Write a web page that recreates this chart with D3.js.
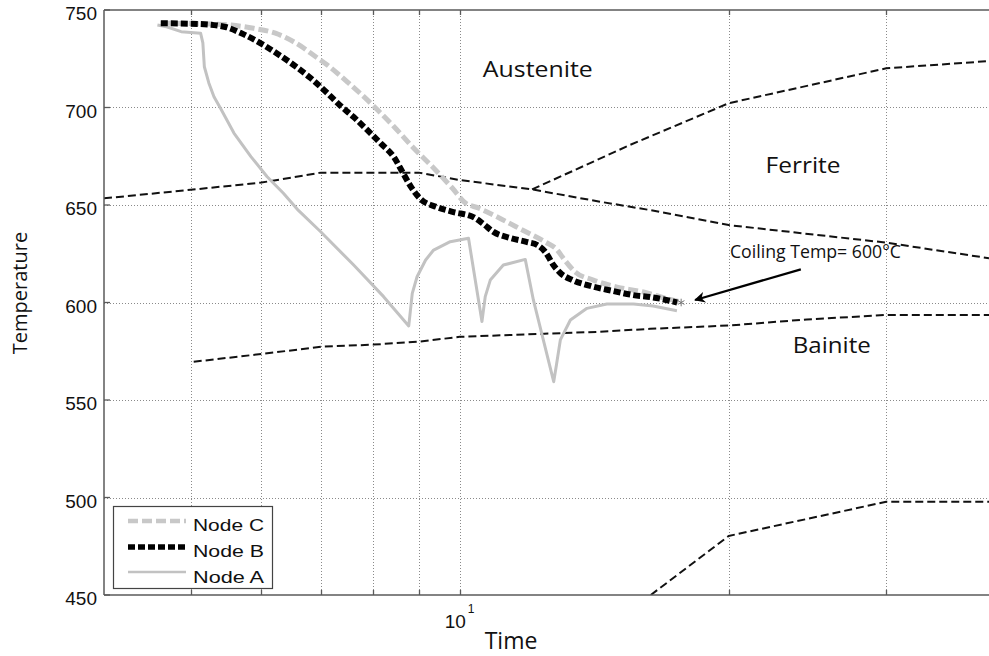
<!DOCTYPE html>
<html>
<head>
<meta charset="utf-8">
<script src="https://cdn.jsdelivr.net/npm/d3@7"></script>
<style>
  html, body { margin: 0; padding: 0; background: #fff; }
  svg { display: block; }
</style>
</head>
<body>
<svg id="chart" width="989" height="656"></svg>
<script>
// Cooling paths of three nodes (time [s], temperature [°C])
const nodeA = [
  [4.59,742.3],[4.70,741.4],[4.88,738.9],[5.13,738.1],[5.16,733.1],[5.18,720.9],
  [5.24,712.6],[5.31,705.5],[5.40,699.6],[5.59,686.9],[5.84,674.8],[6.09,664.5],
  [6.35,656.0],[6.60,647.2],[6.99,636.3],[7.61,619.2],[8.22,603.0],[8.77,588.0],
  [8.85,604.7],[8.96,613.2],[9.16,621.8],[9.35,626.9],[9.76,631.2],[10.23,632.9],
  [10.59,590.2],[10.68,603.0],[10.82,611.5],[11.19,619.2],[11.84,622.1],
  [12.09,601.3],[12.74,559.4],[12.83,567.9],[12.96,580.8],[13.30,591.0],
  [13.88,597.0],[14.61,599.2],[15.65,599.2],[16.46,598.2],[17.50,595.8]
];
const nodeB = [
  [4.63,743.2],[5.13,742.8],[5.47,741.3],[5.69,738.2],[5.99,732.9],[6.24,727.8],
  [6.52,721.8],[6.81,715.1],[7.11,707.4],[7.36,700.8],[7.61,695.1],[7.88,688.5],
  [8.16,681.6],[8.44,674.6],[8.63,666.9],[8.81,659.7],[9.04,653.1],[9.42,649.0],
  [9.84,646.4],[10.36,643.8],[10.63,640.3],[10.91,636.2],[11.39,633.1],[11.90,631.0],
  [12.21,629.5],[12.47,625.9],[12.73,619.2],[12.96,615.1],[13.37,611.5],[14.00,608.5],
  [14.85,605.9],[15.64,603.8],[16.46,602.6],[17.51,600.0]
];
const nodeC = [
  [4.63,743.2],[5.27,742.8],[5.55,742.3],[5.88,740.6],[6.22,738.1],[6.52,733.7],
  [6.69,730.5],[6.81,727.9],[7.11,721.8],[7.51,712.6],[8.01,700.8],[8.43,690.5],
  [8.88,679.2],[9.35,669.0],[9.81,658.7],[10.15,651.0],[10.49,648.5],[11.02,643.8],
  [11.75,637.2],[12.47,631.0],[12.86,626.9],[13.03,623.3],[13.47,615.6],[14.11,611.5],
  [15.00,607.9],[16.05,605.4],[17.11,601.8],[17.65,600.3]
];

// Transformation boundaries
const ferriteStart = [
  [4,653.4],[5,657.8],[6,661.5],[7,666.6],[9,666.6],[10,662.8],[12.05,658.0],
  [14.35,651.7],[16.33,647.4],[20,639.7],[30,630.7],[39.1,622.7]
];
const ferriteBranch = [[12.05,658.0],[15.51,680.8],[20,702.2],[30,720.1],[39.1,723.8]];
const bainiteStart = [
  [5.04,569.6],[6,573.6],[7,577.3],[8,578.4],[9,579.9],[10,582.4],[14.36,585.0],
  [16.33,586.5],[20,588.2],[24.45,591.3],[30,593.6],[39.1,593.6]
];
const martensiteStart = [[16.36,450],[20,480.3],[30,497.8],[39.1,497.8]];

// Axis ticks
const xGridTicks = [5, 6, 7, 8, 9, 10, 20, 30];
const yTicks = [450, 500, 550, 600, 650, 700, 750];
const yGridTicks = [500, 550, 600, 650, 700];

// Region labels: [text, time, temperature, width]
const regionLabels = [
  ["Austenite", 12.23, 715.6, 110],
  ["Ferrite", 24.22, 666.3, 75],
  ["Bainite", 26.08, 574.0, 78]
];
const coilingTemp = 600;
const coilingLabel = { text: "Coiling Temp= " + coilingTemp + "°C", t: 20.06, T: 622.7 };
const coilingArrow = { from: [24.08, 617.0], to: [18.34, 601.3] };

const legendItems = [
  { name: "Node C", key: "C" },
  { name: "Node B", key: "B" },
  { name: "Node A", key: "A" }
];

const svg = d3.select("#chart");
const plotLeft = 104, plotRight = 989, plotTop = 10, plotBottom = 595;

const x = d3.scaleLog().domain([4, 39.1]).range([plotLeft, plotRight]);
const y = d3.scaleLinear().domain([450, 750]).range([plotBottom, plotTop]);

const defs = svg.append("defs");
defs.append("clipPath").attr("id", "plotClip")
  .append("rect").attr("x", plotLeft).attr("y", plotTop)
  .attr("width", plotRight - plotLeft).attr("height", plotBottom - plotTop);

// grid
const grid = svg.append("g").attr("stroke", "#8a8a8a").attr("stroke-width", 1)
  .attr("stroke-dasharray", "1,2");
grid.selectAll("line.v").data(xGridTicks).join("line").attr("class", "v")
  .attr("x1", d => Math.round(x(d)) + 0.5).attr("x2", d => Math.round(x(d)) + 0.5)
  .attr("y1", plotTop).attr("y2", plotBottom);
grid.selectAll("line.h").data(yGridTicks).join("line").attr("class", "h")
  .attr("x1", plotLeft).attr("x2", plotRight)
  .attr("y1", d => Math.round(y(d)) + 0.5).attr("y2", d => Math.round(y(d)) + 0.5);

const plot = svg.append("g").attr("clip-path", "url(#plotClip)");
const line = d3.line().x(d => x(d[0])).y(d => y(d[1]));
const smooth = d3.line().x(d => x(d[0])).y(d => y(d[1])).curve(d3.curveMonotoneX);

// phase boundaries
[ferriteStart, ferriteBranch, bainiteStart, martensiteStart].forEach(b => {
  plot.append("path").datum(b).attr("d", line)
    .attr("fill", "none").attr("stroke", "#111").attr("stroke-width", 2)
    .attr("stroke-dasharray", "8,4");
});

// cooling paths
const styles = {
  A: { color: "#c2c2c2", width: 3, dash: null },
  C: { color: "#c8c8c8", width: 5, dash: "10,4" },
  B: { color: "#000", width: 6, dash: "7,3" }
};
plot.append("path").datum(nodeA).attr("d", line)
  .attr("fill", "none").attr("stroke", styles.A.color).attr("stroke-width", styles.A.width)
  .attr("stroke-linejoin", "round");
plot.append("path").datum(nodeC).attr("d", smooth)
  .attr("fill", "none").attr("stroke", styles.C.color).attr("stroke-width", styles.C.width)
  .attr("stroke-dasharray", styles.C.dash);
plot.append("path").datum(nodeB).attr("d", smooth)
  .attr("fill", "none").attr("stroke", styles.B.color).attr("stroke-width", styles.B.width)
  .attr("stroke-dasharray", styles.B.dash);

// end marker of node B
const endB = nodeB[nodeB.length - 1];
plot.append("path")
  .attr("d", d3.symbol().type(d3.symbolAsterisk).size(40)())
  .attr("transform", `translate(${x(endB[0]) + 4},${y(endB[1])})`)
  .attr("stroke", "#777").attr("stroke-width", 1).attr("fill", "none");

// axes frame
const axisColor = "#5a5a5a";
svg.append("line").attr("x1", plotLeft).attr("x2", plotLeft).attr("y1", plotTop).attr("y2", plotBottom)
  .attr("stroke", axisColor).attr("stroke-width", 1.5);
svg.append("line").attr("x1", plotLeft).attr("x2", plotRight).attr("y1", plotBottom).attr("y2", plotBottom)
  .attr("stroke", axisColor).attr("stroke-width", 1.5);
svg.append("line").attr("x1", plotLeft).attr("x2", plotRight).attr("y1", plotTop).attr("y2", plotTop)
  .attr("stroke", axisColor).attr("stroke-width", 1.5);

// ticks (inward)
svg.append("g").selectAll("line").data(yTicks).join("line")
  .attr("x1", plotLeft).attr("x2", plotLeft + 6)
  .attr("y1", d => y(d)).attr("y2", d => y(d))
  .attr("stroke", axisColor).attr("stroke-width", 1.3);
svg.append("g").selectAll("line").data(xGridTicks).join("line")
  .attr("x1", d => Math.round(x(d)) + 0.5).attr("x2", d => Math.round(x(d)) + 0.5)
  .attr("y1", plotBottom).attr("y2", plotBottom - 5)
  .attr("stroke", axisColor).attr("stroke-width", 1.3);
svg.append("g").selectAll("line").data(xGridTicks).join("line")
  .attr("x1", d => Math.round(x(d)) + 0.5).attr("x2", d => Math.round(x(d)) + 0.5)
  .attr("y1", plotTop).attr("y2", plotTop + 5)
  .attr("stroke", axisColor).attr("stroke-width", 1.3);

// y tick labels
svg.append("g").selectAll("text").data(yTicks).join("text")
  .attr("x", plotLeft - 7).attr("y", d => y(d) + 10)
  .attr("text-anchor", "end")
  .attr("font-family", "Liberation Sans, Arial, sans-serif")
  .attr("font-size", 19).attr("fill", "#111")
  .text(d => d);

// x decade label 10^1
const decade = svg.append("text")
  .attr("x", x(10) - 15).attr("y", 628)
  .attr("font-family", "Liberation Sans, Arial, sans-serif")
  .attr("font-size", 19).attr("fill", "#111");
decade.append("tspan").text("10");
decade.append("tspan").attr("dy", -15).attr("dx", 2).attr("font-size", 12).text("1");

// axis titles
svg.append("text").attr("x", 511).attr("y", 649)
  .attr("text-anchor", "middle")
  .attr("font-family", "Open Sans, sans-serif").attr("font-size", 23).attr("fill", "#111")
  .text("Time");
svg.append("text")
  .attr("transform", "translate(27,293) rotate(-90)")
  .attr("text-anchor", "middle")
  .attr("font-family", "Open Sans, sans-serif").attr("font-size", 20).attr("fill", "#111")
  .text("Temperature");

// region labels
svg.append("g").selectAll("text").data(regionLabels).join("text")
  .attr("x", d => x(d[1])).attr("y", d => y(d[2]))
  .attr("text-anchor", "middle")
  .attr("font-family", "Open Sans, sans-serif").attr("font-size", 21).attr("fill", "#111")
  .attr("textLength", d => d[3]).attr("lengthAdjust", "spacingAndGlyphs")
  .text(d => d[0]);

// coiling annotation
defs.append("marker")
  .attr("id", "arrowHead").attr("viewBox", "0 0 10 10")
  .attr("refX", 9).attr("refY", 5)
  .attr("markerWidth", 13).attr("markerHeight", 11)
  .attr("markerUnits", "userSpaceOnUse").attr("orient", "auto")
  .append("path").attr("d", "M0,0 L10,5 L0,10 L3,5 Z").attr("fill", "#000");
svg.append("line")
  .attr("x1", x(coilingArrow.from[0])).attr("y1", y(coilingArrow.from[1]))
  .attr("x2", x(coilingArrow.to[0])).attr("y2", y(coilingArrow.to[1]))
  .attr("stroke", "#000").attr("stroke-width", 2.2)
  .attr("marker-end", "url(#arrowHead)");
svg.append("text")
  .attr("x", x(coilingLabel.t)).attr("y", y(coilingLabel.T))
  .attr("font-family", "Open Sans, sans-serif").attr("font-size", 17.5).attr("fill", "#111")
  .attr("textLength", 171).attr("lengthAdjust", "spacingAndGlyphs")
  .text(coilingLabel.text);

// legend
const lg = svg.append("g");
lg.append("rect").attr("x", 113.5).attr("y", 506.5).attr("width", 159).attr("height", 82)
  .attr("fill", "#fff").attr("stroke", "#444").attr("stroke-width", 1.2);
const rowY = [521, 547, 572];
const baseY = [531, 557, 583];
legendItems.forEach((it, i) => {
  const s = styles[it.key];
  lg.append("line").attr("x1", 128).attr("x2", 186).attr("y1", rowY[i]).attr("y2", rowY[i])
    .attr("stroke", s.color).attr("stroke-width", it.key === "A" ? 2.5 : s.width - 0.5)
    .attr("stroke-dasharray", s.dash);
  lg.append("text").attr("x", 193).attr("y", baseY[i])
    .attr("font-family", "Liberation Sans, Arial, sans-serif").attr("font-size", 17)
    .attr("fill", "#111")
    .attr("textLength", 71).attr("lengthAdjust", "spacingAndGlyphs")
    .text(it.name);
});
</script>
</body>
</html>
